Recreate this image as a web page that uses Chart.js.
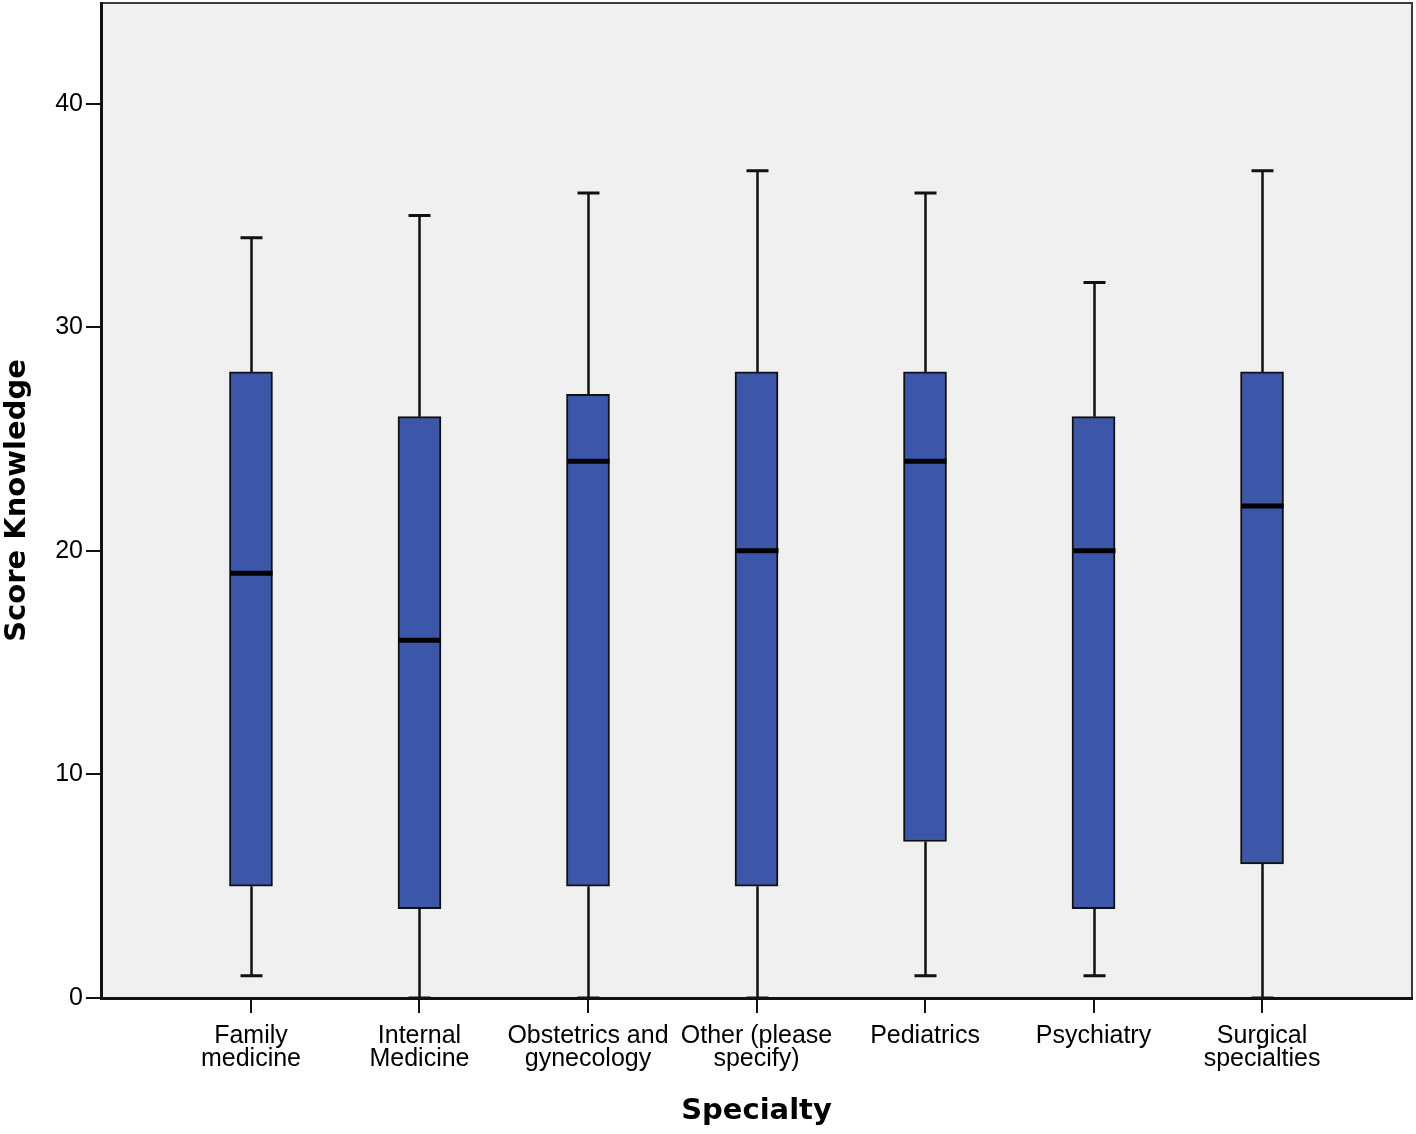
<!DOCTYPE html>
<html>
<head>
<meta charset="utf-8">
<script src="https://cdn.jsdelivr.net/npm/chart.js@4/dist/chart.umd.min.js"></script>
<style>
  html, body { margin: 0; padding: 0; background: #fff; }
  #wrap { width: 1416px; height: 1134px; }
</style>
</head>
<body>
<div id="wrap"><canvas id="myChart" width="1416" height="1134"></canvas></div>
<script>
// categories (each label split into its two printed lines)
var specialties = [
  ['Family', 'medicine'],
  ['Internal', 'Medicine'],
  ['Obstetrics and', 'gynecology'],
  ['Other (please', 'specify)'],
  ['Pediatrics'],
  ['Psychiatry'],
  ['Surgical', 'specialties']
];

// box plot values
var mins    = [1, 0, 0, 0, 1, 1, 0];
var q1s     = [5, 4, 5, 5, 7, 4, 6];
var medians = [19, 16, 24, 20, 24, 20, 22];
var q3s     = [28, 26, 27, 28, 28, 26, 28];
var maxs    = [34, 35, 36, 37, 36, 32, 37];

var yTicks = [0, 10, 20, 30, 40];

var boxData = specialties.map(function (s, i) {
  return { x: i, y: [q1s[i], q3s[i]] };
});

// plot background + frame
var frame = {
  id: 'frame',
  beforeDraw: function (chart) {
    var a = chart.chartArea, c = chart.ctx;
    c.save();
    c.fillStyle = '#f0f0f0';
    c.fillRect(a.left, a.top, a.right - a.left, a.bottom - a.top);
    c.strokeStyle = '#3a3a3a';
    c.lineWidth = 2;
    c.strokeRect(a.left, a.top, a.right - a.left, a.bottom - a.top);
    c.restore();
  }
};

// whiskers, caps and medians
var whiskers = {
  id: 'whiskers',
  afterDatasetsDraw: function (chart) {
    var c = chart.ctx, xs = chart.scales.x, ys = chart.scales.y;
    c.save();
    specialties.forEach(function (s, i) {
      var x = Math.round(xs.getPixelForValue(i)) + 0.5;
      c.strokeStyle = '#111';
      c.lineWidth = 2.5;
      c.beginPath();
      c.moveTo(x, ys.getPixelForValue(q3s[i]));
      c.lineTo(x, ys.getPixelForValue(maxs[i]));
      c.moveTo(x, ys.getPixelForValue(q1s[i]));
      c.lineTo(x, ys.getPixelForValue(mins[i]));
      c.stroke();
      c.lineWidth = 3;
      c.beginPath();
      c.moveTo(x - 11, ys.getPixelForValue(maxs[i]));
      c.lineTo(x + 11, ys.getPixelForValue(maxs[i]));
      c.moveTo(x - 11, ys.getPixelForValue(mins[i]));
      c.lineTo(x + 11, ys.getPixelForValue(mins[i]));
      c.stroke();
      c.strokeStyle = '#000';
      c.lineWidth = 5;
      c.beginPath();
      c.moveTo(x - 21, ys.getPixelForValue(medians[i]));
      c.lineTo(x + 21, ys.getPixelForValue(medians[i]));
      c.stroke();
    });
    c.restore();
  }
};

var ctx = document.getElementById('myChart').getContext('2d');
var chart = new Chart(ctx, {
  type: 'bar',
  data: {
    datasets: [{
      data: boxData,
      backgroundColor: '#3c57a9',
      borderColor: '#111',
      borderWidth: 2,
      borderSkipped: false,
      barThickness: 43
    }]
  },
  options: {
    responsive: false,
    animation: false,
    devicePixelRatio: 1,
    layout: { padding: { top: 3, right: 4, left: 0, bottom: 0 } },
    plugins: {
      legend: { display: false },
      tooltip: { enabled: false }
    },
    scales: {
      x: {
        type: 'linear',
        offset: false,
        min: -0.89,
        max: 6.89,
        afterBuildTicks: function (s) {
          s.ticks = specialties.map(function (l, i) { return { value: i }; });
        },
        afterFit: function (s) {
          s.height = 136;
          s.paddingLeft = 0;
          s.paddingRight = 0;
        },
        grid: { offset: false, drawOnChartArea: false, tickLength: 15, color: '#111', lineWidth: 2 },
        border: { display: true, color: '#111', width: 3 },
        ticks: {
          autoSkip: false,
          maxRotation: 0,
          padding: 11,
          color: '#000',
          font: { family: '"Liberation Sans", Arial, sans-serif', size: 25, lineHeight: 0.93 },
          callback: function (v) { return specialties[v]; }
        },
        title: {
          display: true,
          text: 'Specialty',
          color: '#000',
          padding: { top: 0, bottom: 5 },
          font: { family: '"DejaVu Sans", Verdana, sans-serif', size: 29, weight: 'bold' }
        }
      },
      y: {
        min: 0,
        max: 44.5,
        afterBuildTicks: function (s) {
          s.ticks = yTicks.map(function (v) { return { value: v }; });
        },
        afterFit: function (s) {
          s.width = 101;
          s.paddingTop = 0;
          s.paddingBottom = 0;
        },
        grid: { drawOnChartArea: false, tickLength: 15, color: '#111', lineWidth: 2 },
        border: { display: true, color: '#111', width: 3 },
        ticks: {
          padding: 3,
          color: '#000',
          font: { family: '"Liberation Sans", Arial, sans-serif', size: 25 }
        },
        title: {
          display: true,
          text: 'Score Knowledge',
          color: '#000',
          padding: { top: 0, bottom: 0 },
          font: { family: '"DejaVu Sans", Verdana, sans-serif', size: 29, weight: 'bold' }
        }
      }
    }
  },
  plugins: [frame, whiskers]
});
</script>
</body>
</html>
